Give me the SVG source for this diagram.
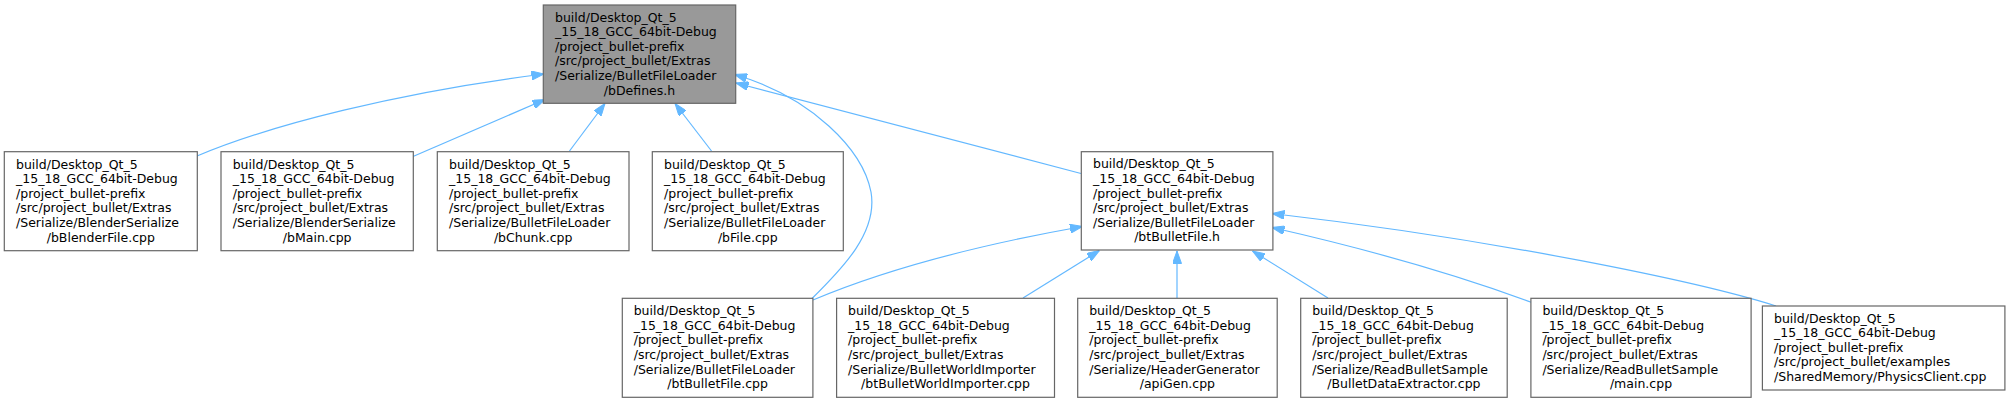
<svg xmlns="http://www.w3.org/2000/svg" width="2011" height="403" viewBox="0 0 2011 403">
<style>
  .box { fill: #ffffff; stroke: #666666; stroke-width: 1.2; }
  .root { fill: #999999; stroke: #666666; stroke-width: 1.2; }
  .t { font-family: "DejaVu Sans", "Liberation Sans", sans-serif; font-size: 12.5px; fill: #000000; }
  .m { text-anchor: middle; }
  .e { fill: none; stroke: #63b8ff; stroke-width: 1.2; marker-end: url(#ah); }
</style>
<defs>
  <marker id="ah" viewBox="0 0 12.5 9" refX="12.5" refY="4.5" markerUnits="userSpaceOnUse" markerWidth="12.5" markerHeight="9" orient="auto">
    <path d="M0,0 L12.5,4.5 L0,9 z" fill="#63b8ff" stroke="#63b8ff" stroke-width="1"/>
  </marker>
</defs>
<rect width="2011" height="403" fill="#ffffff"/>

<g id="edges">
  <path class="e" d="M197,156 C270,125 400,92 544,74"/>
  <path class="e" d="M413,156.5 L545,99.5"/>
  <path class="e" d="M569.5,151 L605,103.5"/>
  <path class="e" d="M711.5,151 L675,103.5"/>
  <path class="e" d="M812,298.5 C843,268 878,232 871,192 C863,150 812,97 734.5,74.5"/>
  <path class="e" d="M1081,173.5 L736,83"/>
  <path class="e" d="M813,300 C870,276 950,250 1082.5,226.5"/>
  <path class="e" d="M1023,298 L1099.5,250.5"/>
  <path class="e" d="M1177,298 L1177,251"/>
  <path class="e" d="M1328,298 L1252.5,251"/>
  <path class="e" d="M1532,302.5 C1460,276 1380,252 1272,227.5"/>
  <path class="e" d="M1776,306 C1700,282 1500,240 1272,213.5"/>
</g>

<g id="node_root">
  <rect class="root" x="543.3" y="5" width="192.4" height="98.3"/>
  <text class="t"><tspan x="555" y="21.5">build/Desktop_Qt_5</tspan><tspan x="555" y="36.1">_15_18_GCC_64bit-Debug</tspan><tspan x="555" y="50.7">/project_bullet-prefix</tspan><tspan x="555" y="65.3">/src/project_bullet/Extras</tspan><tspan x="555" y="79.9">/Serialize/BulletFileLoader</tspan></text>
  <text class="t m" x="639.5" y="94.5">/bDefines.h</text>
</g>

<g id="node_bBlenderFile">
  <rect class="box" x="4.3" y="151.7" width="193" height="99"/>
  <text class="t"><tspan x="16" y="168.5">build/Desktop_Qt_5</tspan><tspan x="16" y="183.1">_15_18_GCC_64bit-Debug</tspan><tspan x="16" y="197.7">/project_bullet-prefix</tspan><tspan x="16" y="212.3">/src/project_bullet/Extras</tspan><tspan x="16" y="226.9">/Serialize/BlenderSerialize</tspan></text>
  <text class="t m" x="100.8" y="241.5">/bBlenderFile.cpp</text>
</g>

<g id="node_bMain">
  <rect class="box" x="221" y="151.7" width="192.3" height="99"/>
  <text class="t"><tspan x="232.7" y="168.5">build/Desktop_Qt_5</tspan><tspan x="232.7" y="183.1">_15_18_GCC_64bit-Debug</tspan><tspan x="232.7" y="197.7">/project_bullet-prefix</tspan><tspan x="232.7" y="212.3">/src/project_bullet/Extras</tspan><tspan x="232.7" y="226.9">/Serialize/BlenderSerialize</tspan></text>
  <text class="t m" x="317.2" y="241.5">/bMain.cpp</text>
</g>

<g id="node_bChunk">
  <rect class="box" x="437.3" y="151.7" width="191.7" height="99"/>
  <text class="t"><tspan x="449" y="168.5">build/Desktop_Qt_5</tspan><tspan x="449" y="183.1">_15_18_GCC_64bit-Debug</tspan><tspan x="449" y="197.7">/project_bullet-prefix</tspan><tspan x="449" y="212.3">/src/project_bullet/Extras</tspan><tspan x="449" y="226.9">/Serialize/BulletFileLoader</tspan></text>
  <text class="t m" x="533.2" y="241.5">/bChunk.cpp</text>
</g>

<g id="node_bFile">
  <rect class="box" x="652.3" y="151.7" width="191" height="99"/>
  <text class="t"><tspan x="664" y="168.5">build/Desktop_Qt_5</tspan><tspan x="664" y="183.1">_15_18_GCC_64bit-Debug</tspan><tspan x="664" y="197.7">/project_bullet-prefix</tspan><tspan x="664" y="212.3">/src/project_bullet/Extras</tspan><tspan x="664" y="226.9">/Serialize/BulletFileLoader</tspan></text>
  <text class="t m" x="747.8" y="241.5">/bFile.cpp</text>
</g>

<g id="node_btBulletFile_h">
  <rect class="box" x="1081.3" y="151.7" width="191.6" height="98.3"/>
  <text class="t"><tspan x="1093" y="168.3">build/Desktop_Qt_5</tspan><tspan x="1093" y="182.9">_15_18_GCC_64bit-Debug</tspan><tspan x="1093" y="197.5">/project_bullet-prefix</tspan><tspan x="1093" y="212.1">/src/project_bullet/Extras</tspan><tspan x="1093" y="226.7">/Serialize/BulletFileLoader</tspan></text>
  <text class="t m" x="1177.1" y="241.3">/btBulletFile.h</text>
</g>

<g id="node_btBulletFile_cpp">
  <rect class="box" x="622.3" y="298.3" width="190.6" height="99"/>
  <text class="t"><tspan x="633.7" y="315.1">build/Desktop_Qt_5</tspan><tspan x="633.7" y="329.7">_15_18_GCC_64bit-Debug</tspan><tspan x="633.7" y="344.3">/project_bullet-prefix</tspan><tspan x="633.7" y="358.9">/src/project_bullet/Extras</tspan><tspan x="633.7" y="373.5">/Serialize/BulletFileLoader</tspan></text>
  <text class="t m" x="717.6" y="388.1">/btBulletFile.cpp</text>
</g>

<g id="node_btBulletWorldImporter">
  <rect class="box" x="836.6" y="298.3" width="217.9" height="99"/>
  <text class="t"><tspan x="848" y="315.1">build/Desktop_Qt_5</tspan><tspan x="848" y="329.7">_15_18_GCC_64bit-Debug</tspan><tspan x="848" y="344.3">/project_bullet-prefix</tspan><tspan x="848" y="358.9">/src/project_bullet/Extras</tspan><tspan x="848" y="373.5">/Serialize/BulletWorldImporter</tspan></text>
  <text class="t m" x="945.5" y="388.1">/btBulletWorldImporter.cpp</text>
</g>

<g id="node_apiGen">
  <rect class="box" x="1077.7" y="298.3" width="199.5" height="99"/>
  <text class="t"><tspan x="1089.2" y="315.1">build/Desktop_Qt_5</tspan><tspan x="1089.2" y="329.7">_15_18_GCC_64bit-Debug</tspan><tspan x="1089.2" y="344.3">/project_bullet-prefix</tspan><tspan x="1089.2" y="358.9">/src/project_bullet/Extras</tspan><tspan x="1089.2" y="373.5">/Serialize/HeaderGenerator</tspan></text>
  <text class="t m" x="1177.4" y="388.1">/apiGen.cpp</text>
</g>

<g id="node_BulletDataExtractor">
  <rect class="box" x="1300.7" y="298.3" width="206.5" height="99"/>
  <text class="t"><tspan x="1312.2" y="315.1">build/Desktop_Qt_5</tspan><tspan x="1312.2" y="329.7">_15_18_GCC_64bit-Debug</tspan><tspan x="1312.2" y="344.3">/project_bullet-prefix</tspan><tspan x="1312.2" y="358.9">/src/project_bullet/Extras</tspan><tspan x="1312.2" y="373.5">/Serialize/ReadBulletSample</tspan></text>
  <text class="t m" x="1403.9" y="388.1">/BulletDataExtractor.cpp</text>
</g>

<g id="node_main_cpp">
  <rect class="box" x="1530.9" y="298.3" width="220.2" height="99"/>
  <text class="t"><tspan x="1542.4" y="315.1">build/Desktop_Qt_5</tspan><tspan x="1542.4" y="329.7">_15_18_GCC_64bit-Debug</tspan><tspan x="1542.4" y="344.3">/project_bullet-prefix</tspan><tspan x="1542.4" y="358.9">/src/project_bullet/Extras</tspan><tspan x="1542.4" y="373.5">/Serialize/ReadBulletSample</tspan></text>
  <text class="t m" x="1641" y="388.1">/main.cpp</text>
</g>

<g id="node_PhysicsClient">
  <rect class="box" x="1762.4" y="306" width="242.5" height="84"/>
  <text class="t"><tspan x="1774" y="322.6">build/Desktop_Qt_5</tspan><tspan x="1774" y="337.2">_15_18_GCC_64bit-Debug</tspan><tspan x="1774" y="351.8">/project_bullet-prefix</tspan><tspan x="1774" y="366.4">/src/project_bullet/examples</tspan><tspan x="1774" y="381">/SharedMemory/PhysicsClient.cpp</tspan></text>
</g>
</svg>
